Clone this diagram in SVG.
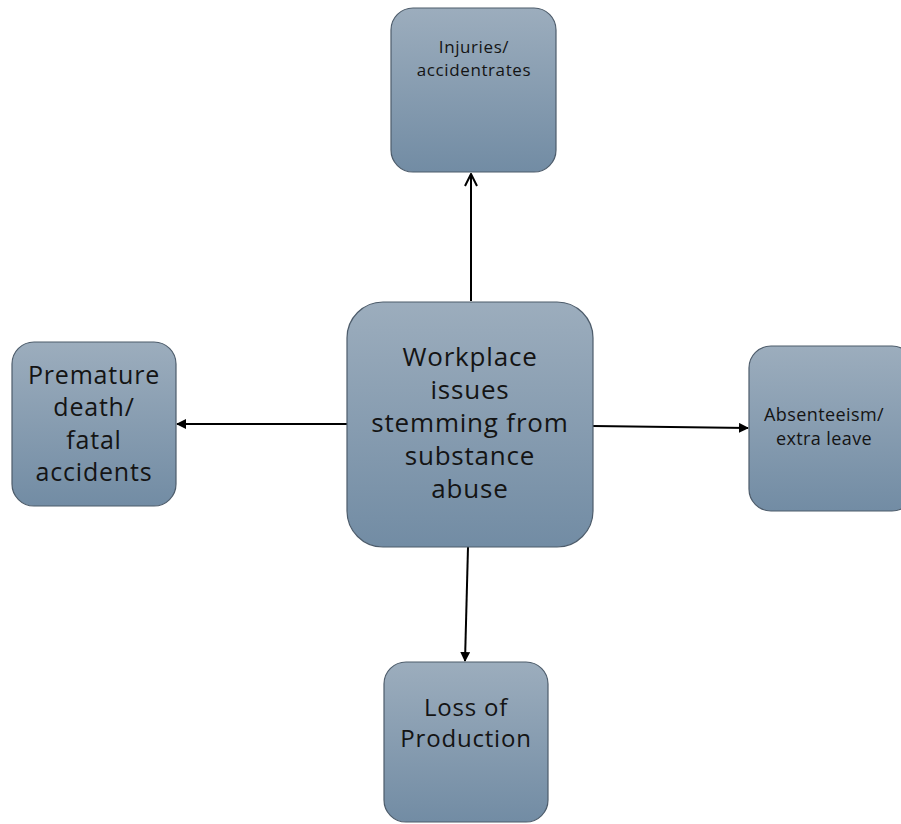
<svg xmlns="http://www.w3.org/2000/svg" width="901" height="824" viewBox="0 0 901 824">
<style>
.box{fill:url(#g);stroke:#4d5c6b;stroke-width:1.2}
text{font-family:"Open Sans","Liberation Sans",sans-serif;fill:#141414;text-anchor:middle}
.ln{stroke:#000;stroke-width:2;fill:none}
</style>
<defs>
<linearGradient id="g" x1="0" y1="0" x2="0" y2="1">
<stop offset="0" stop-color="#9cadbd"/>
<stop offset="1" stop-color="#728ca4"/>
</linearGradient>
<marker id="fa" markerWidth="10" markerHeight="10" refX="9" refY="5" orient="auto" markerUnits="userSpaceOnUse" viewBox="0 0 10 10">
<path d="M0,0 L10,5 L0,10 Z" fill="#000"/>
</marker>
<marker id="oa" markerWidth="14" markerHeight="14" refX="13" refY="7" orient="auto" markerUnits="userSpaceOnUse" viewBox="0 0 14 14">
<path d="M1,1 L13,7 L1,13" fill="none" stroke="#000" stroke-width="2"/>
</marker>
</defs>
<rect width="901" height="824" fill="#fff"/>
<g id="connectors">
<line class="ln" x1="471" y1="301" x2="471" y2="174" marker-end="url(#oa)"/>
<line class="ln" x1="347" y1="424" x2="177" y2="424" marker-end="url(#fa)"/>
<line class="ln" x1="593" y1="426" x2="748" y2="428" marker-end="url(#fa)"/>
<line class="ln" x1="468" y1="547" x2="465" y2="661" marker-end="url(#fa)"/>
</g>
<g id="center">
<rect class="box" x="347" y="302" width="246" height="245" rx="36"/>
<text font-size="26" letter-spacing="0.8"><tspan x="470" y="366">Workplace</tspan><tspan x="470" y="399">issues</tspan><tspan x="470" y="432">stemming from</tspan><tspan x="470" y="465">substance</tspan><tspan x="470" y="498">abuse</tspan></text>
</g>
<g id="top">
<rect class="box" x="391" y="8" width="165" height="164" rx="22"/>
<text font-size="17" letter-spacing="0.6"><tspan x="474" y="53">Injuries/</tspan><tspan x="474" y="76">accidentrates</tspan></text>
</g>
<g id="left">
<rect class="box" x="12" y="342" width="164" height="164" rx="22"/>
<text font-size="25" letter-spacing="0.8"><tspan x="94" y="384">Premature</tspan><tspan x="94" y="416">death/</tspan><tspan x="94" y="449">fatal</tspan><tspan x="94" y="481">accidents</tspan></text>
</g>
<g id="right">
<rect class="box" x="749" y="346" width="165" height="165" rx="22"/>
<text font-size="18" letter-spacing="0.4"><tspan x="824" y="421">Absenteeism/</tspan><tspan x="824" y="445">extra leave</tspan></text>
</g>
<g id="bottom">
<rect class="box" x="384" y="662" width="164" height="160" rx="22"/>
<text font-size="24" letter-spacing="0.8"><tspan x="466" y="716">Loss of</tspan><tspan x="466" y="747">Production</tspan></text>
</g>
</svg>
